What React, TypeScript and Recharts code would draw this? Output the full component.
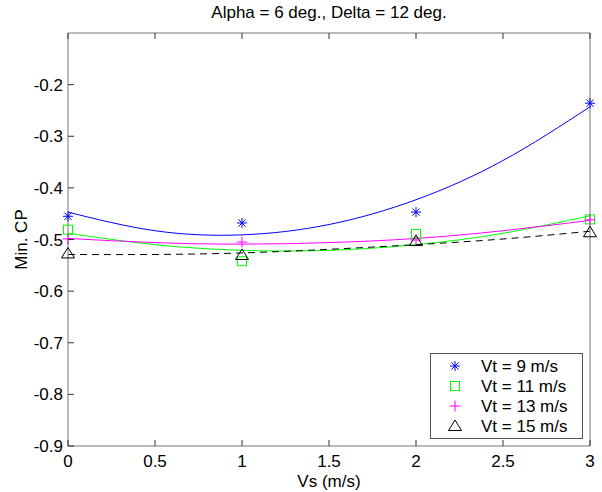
import { ComposedChart, Line, Scatter, XAxis, YAxis, Legend, Label } from "recharts"

// measured points (Vs in m/s, min CP)
const vs = [0, 1, 2, 3]
const vt9 = [-0.455, -0.468, -0.447, -0.236]
const vt11 = [-0.481, -0.542, -0.489, -0.461]
const vt13 = [-0.499, -0.505, -0.501, -0.462]
const vt15 = [-0.527, -0.530, -0.503, -0.486]

// fitted curves
const fitX = [0, 0.5, 1, 1.5, 2, 2.5, 3]
const fit9 = [-0.447, -0.483, -0.491, -0.471, -0.423, -0.347, -0.243]
const fit11 = [-0.488, -0.510, -0.521, -0.521, -0.510, -0.488, -0.454]
const fit13 = [-0.498, -0.506, -0.509, -0.506, -0.498, -0.483, -0.463]
const fit15 = [-0.529, -0.529, -0.526, -0.519, -0.510, -0.499, -0.484]

const xTicks = [0, 0.5, 1, 1.5, 2, 2.5, 3]
const yTicks = [-0.9, -0.8, -0.7, -0.6, -0.5, -0.4, -0.3, -0.2]
const names = ["Vt = 9 m/s", "Vt = 11 m/s", "Vt = 13 m/s", "Vt = 15 m/s"]

const FONT = "'Liberation Sans', Arial, sans-serif"
const TICK = "#333"

const fitData = fitX.map((x, i) => ({ x, f9: fit9[i], f11: fit11[i], f13: fit13[i], f15: fit15[i] }))
const pts = (ys: number[]) => vs.map((x, i) => ({ x, y: ys[i] }))

function Marker({ kind, cx, cy }: { kind: number; cx: number; cy: number }) {
  if (kind === 0) {
    const r = 5
    const d = 3.6
    return (
      <g stroke="#0000ff" strokeWidth={1}>
        <line x1={cx - r} y1={cy} x2={cx + r} y2={cy} />
        <line x1={cx} y1={cy - r} x2={cx} y2={cy + r} />
        <line x1={cx - d} y1={cy - d} x2={cx + d} y2={cy + d} />
        <line x1={cx - d} y1={cy + d} x2={cx + d} y2={cy - d} />
      </g>
    )
  }
  if (kind === 1) {
    return <rect x={cx - 4.5} y={cy - 4.5} width={9} height={9} fill="none" stroke="#00ff00" strokeWidth={1} />
  }
  if (kind === 2) {
    return (
      <g stroke="#ff00ff" strokeWidth={1}>
        <line x1={cx - 5.5} y1={cy} x2={cx + 5.5} y2={cy} />
        <line x1={cx} y1={cy - 5.5} x2={cx} y2={cy + 5.5} />
      </g>
    )
  }
  return (
    <polygon
      points={`${cx},${cy - 6} ${cx - 6.5},${cy + 4.5} ${cx + 6.5},${cy + 4.5}`}
      fill="none"
      stroke="#000"
      strokeWidth={1}
    />
  )
}

const shape = (kind: number) => (props: any) => <Marker kind={kind} cx={props.cx} cy={props.cy} />

function BottomTick({ x, y, payload }: any) {
  return (
    <g>
      <line x1={x} y1={y} x2={x} y2={y - 6} stroke={TICK} />
      <text x={x} y={y + 21} textAnchor="middle" fontSize={17} fontFamily={FONT} fill="#000">
        {payload.value}
      </text>
    </g>
  )
}

function TopTick({ x, y }: any) {
  return <line x1={x} y1={y} x2={x} y2={y + 6} stroke={TICK} />
}

function LeftTick({ x, y, payload }: any) {
  return (
    <g>
      <line x1={x} y1={y} x2={x + 6} y2={y} stroke={TICK} />
      <text x={x - 5} y={y + 6} textAnchor="end" fontSize={17} fontFamily={FONT} fill="#000">
        {payload.value}
      </text>
    </g>
  )
}

function RightTick({ x, y }: any) {
  return <line x1={x} y1={y} x2={x - 6} y2={y} stroke={TICK} />
}

function LegendBox() {
  return (
    <svg width={153} height={86} style={{ display: "block" }}>
      <rect x={0.5} y={0.5} width={152} height={85} fill="#fff" stroke="#555" />
      {names.map((n, i) => (
        <g key={n}>
          <Marker kind={i} cx={25} cy={13 + i * 20} />
          <text x={51} y={19 + i * 20} fontSize={17} fontFamily={FONT} fill="#000">
            {n}
          </text>
        </g>
      ))}
    </svg>
  )
}

export default function App() {
  const box = "#777"
  return (
    <div style={{ position: "absolute", left: 0, top: 0, width: 602, height: 492, background: "#fff" }}>
      <ComposedChart width={602} height={492} data={fitData} margin={{ top: 32, right: 11, left: 0, bottom: 0 }}>
        <XAxis
          dataKey="x"
          type="number"
          domain={[0, 3]}
          ticks={xTicks}
          interval={0}
          height={46}
          tickSize={0}
          tickMargin={0}
          tickLine={false}
          axisLine={{ stroke: box }}
          tick={<BottomTick />}
        >
          <Label value="Vs (m/s)" position="insideBottom" offset={5} fontSize={17} fontFamily={FONT} fill="#000" />
        </XAxis>
        <XAxis
          xAxisId="top"
          orientation="top"
          dataKey="x"
          type="number"
          domain={[0, 3]}
          ticks={xTicks}
          interval={0}
          height={1}
          tickSize={0}
          tickMargin={0}
          tickLine={false}
          axisLine={{ stroke: box }}
          tick={<TopTick />}
        >
          <Label value="Alpha = 6 deg., Delta = 12 deg." position="top" offset={14} fontSize={17} fontFamily={FONT} fill="#000" />
        </XAxis>
        <YAxis
          type="number"
          domain={[-0.9, -0.1]}
          ticks={yTicks}
          interval={0}
          width={68}
          tickSize={0}
          tickMargin={0}
          tickLine={false}
          axisLine={{ stroke: box }}
          tick={<LeftTick />}
        >
          <Label value="Min. CP" angle={-90} position="insideLeft" offset={21} fontSize={17} fontFamily={FONT} fill="#000" style={{ textAnchor: "middle" }} />
        </YAxis>
        <YAxis
          yAxisId="right"
          orientation="right"
          type="number"
          domain={[-0.9, -0.1]}
          ticks={yTicks}
          interval={0}
          width={1}
          tickSize={0}
          tickMargin={0}
          tickLine={false}
          axisLine={{ stroke: box }}
          tick={<RightTick />}
        />
        <Line dataKey="f9" type="natural" stroke="#0000ff" strokeWidth={1} dot={false} isAnimationActive={false} legendType="none" />
        <Line dataKey="f11" type="natural" stroke="#00ff00" strokeWidth={1} dot={false} isAnimationActive={false} legendType="none" />
        <Line dataKey="f13" type="natural" stroke="#ff00ff" strokeWidth={1} dot={false} isAnimationActive={false} legendType="none" />
        <Line dataKey="f15" type="natural" stroke="#000" strokeWidth={1} strokeDasharray="7 5" dot={false} isAnimationActive={false} legendType="none" />
        <Scatter data={pts(vt9)} dataKey="y" shape={shape(0)} isAnimationActive={false} />
        <Scatter data={pts(vt11)} dataKey="y" shape={shape(1)} isAnimationActive={false} />
        <Scatter data={pts(vt13)} dataKey="y" shape={shape(2)} isAnimationActive={false} />
        <Scatter data={pts(vt15)} dataKey="y" shape={shape(3)} isAnimationActive={false} />
        <Legend
          layout="vertical"
          align="center"
          verticalAlign="middle"
          content={() => <LegendBox />}
          wrapperStyle={{ left: 430, top: 353, width: 153, height: 86 }}
        />
      </ComposedChart>
    </div>
  )
}
